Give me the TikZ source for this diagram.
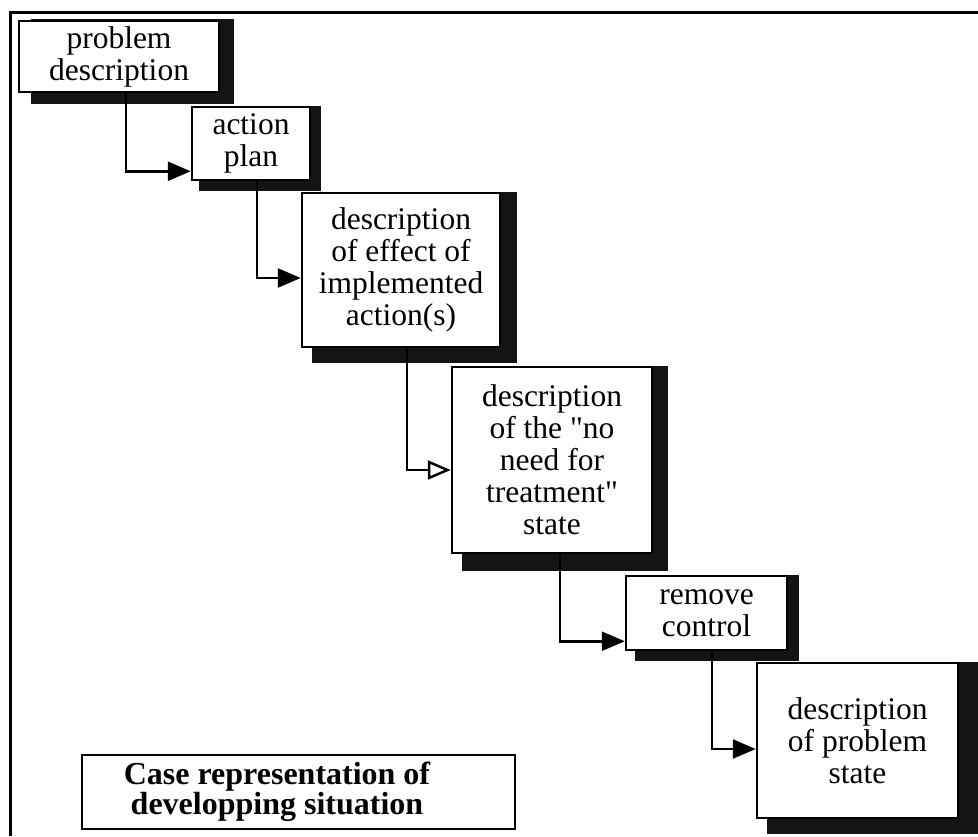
\documentclass[tikz,border=0pt]{standalone}
\usepackage{fontspec}
\setmainfont{Liberation Serif}[Ligatures=TeXOff]
\usetikzlibrary{arrows.meta,backgrounds,calc}
\begin{document}
\begin{tikzpicture}[x=1pt,y=-1pt,
  stepbox/.style={draw=black, line width=2.5pt, fill=white, inner sep=0pt, align=center,
    font=\fontsize{31.5}{32}\selectfont},
  shadowfill/.style={fill=black!92},
  conn/.style={line width=2.5pt, -{Triangle[length=23pt,width=19pt]}},
  connopen/.style={line width=2.5pt, -{Triangle[open,length=23pt,width=19pt,line width=2.5pt,fill=white]}},
  capbox/.style={draw=black, line width=2.5pt, inner sep=0pt},
  captext/.style={inner sep=0pt, align=center, font=\bfseries\fontsize{32}{27}\selectfont},
  frameline/.style={line width=3pt}
]
\useasboundingbox (0,0) rectangle (978,836);
\draw[frameline] (10,836) -- (10,12) -- (978,12);

\node[stepbox, minimum width=200pt, minimum height=71pt] (b1) at (119,56.5) {problem\\description};
\node[stepbox, minimum width=118pt, minimum height=73pt] (b2) at (251,143.5) {action\\plan};
\node[stepbox, minimum width=198pt, minimum height=154pt] (b3) at (401,270) {description\\of effect of\\implemented\\action(s)};
\node[stepbox, minimum width=200pt, minimum height=186pt] (b4) at (552,460) {description\\of the "no\\need for\\treatment"\\state};
\node[stepbox, minimum width=161pt, minimum height=74pt] (b5) at (706.5,613) {remove\\control};
\node[stepbox, minimum width=201pt, minimum height=155pt] (b6) at (857.5,740.5) {description\\of problem\\state};

\node[capbox, minimum width=433pt, minimum height=74pt] (cap) at (298.5,792) {};
\node[captext] (caplabel) at (277,792) {Case representation of\\developping situation};

\begin{scope}[on background layer]
  \fill[shadowfill] ([xshift=13pt,yshift=1pt]b1.north west) rectangle ([xshift=14pt,yshift=-11pt]b1.south east);
  \fill[shadowfill] ([xshift=8pt]b2.north west) rectangle ([xshift=10pt,yshift=-10pt]b2.south east);
  \fill[shadowfill] ([xshift=11pt]b3.north west) rectangle ([xshift=16pt,yshift=-15pt]b3.south east);
  \fill[shadowfill] ([xshift=11pt]b4.north west) rectangle ([xshift=15pt,yshift=-17pt]b4.south east);
  \fill[shadowfill] ([xshift=10pt]b5.north west) rectangle ([xshift=11pt,yshift=-10pt]b5.south east);
  \fill[shadowfill] ([xshift=11pt]b6.north west) rectangle ([xshift=19pt,yshift=-15pt]b6.south east);
\end{scope}

\draw[conn] ([xshift=108pt]b1.south west) |- ([yshift=10pt]b2.south west);
\draw[conn] ([xshift=66pt]b2.south west) |- ([yshift=-8pt]b3.west);
\draw[connopen] ([xshift=106pt]b3.south west) |- ([yshift=-10pt]b4.west);
\draw[conn] ([xshift=109pt]b4.south west) |- ([yshift=10pt]b5.south west);
\draw[conn] ([xshift=87pt]b5.south west) |- ([yshift=-8.5pt]b6.west);
\end{tikzpicture}
\end{document}
